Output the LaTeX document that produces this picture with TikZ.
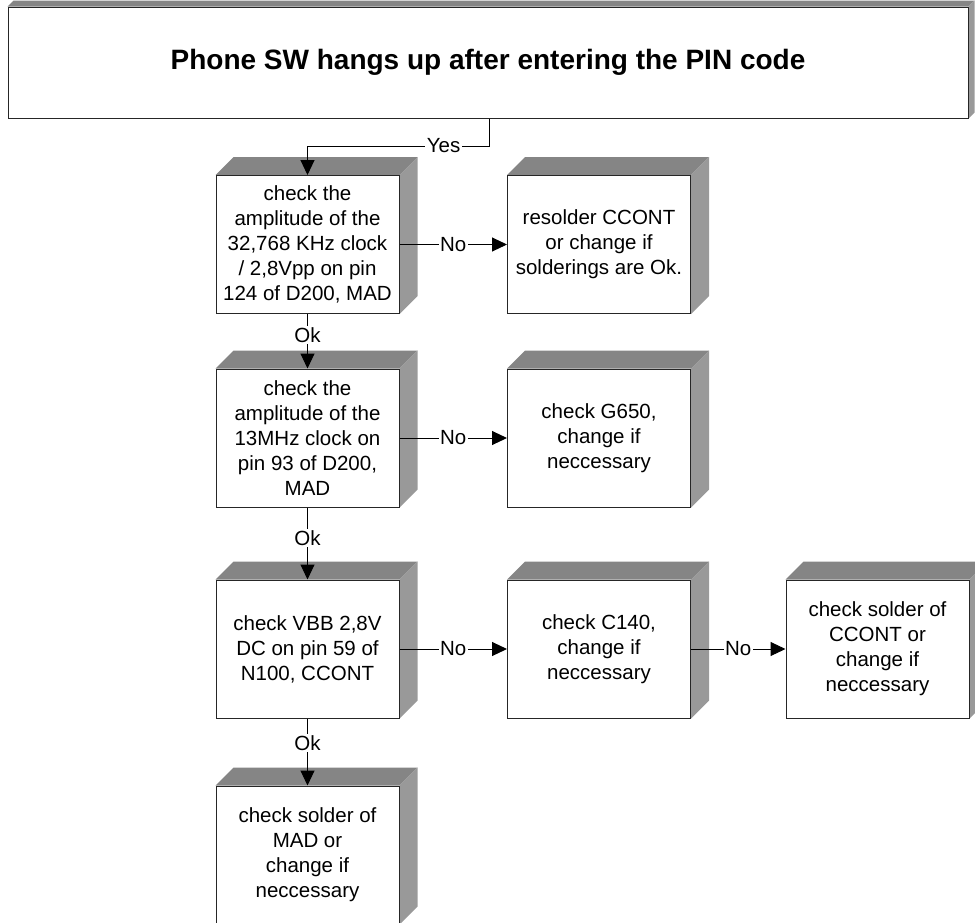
\documentclass[tikz,border=0pt]{standalone}
\usepackage{fontspec}
\setmainfont{Liberation Sans}
\usetikzlibrary{arrows.meta,backgrounds}

% extruded faces (top and right) behind a front box
\newcommand\extrude[2]{%
  \fill[topface] (#1.north west) -- ++(#2,-#2) -- ([shift={(#2,-#2)}]#1.north east) -- (#1.north east) -- cycle;
  \fill[sideface] (#1.north east) -- ++(#2,-#2) -- ([shift={(#2,-#2)}]#1.south east) -- (#1.south east) -- cycle;
}

\begin{document}
\begin{tikzpicture}[x=1pt,y=-1pt,
  boxtext/.style={font=\fontsize{20.5}{25}\selectfont},
  box/.style={draw=black!85, line width=1pt, fill=white, minimum width=183pt,
    minimum height=138pt, inner sep=0pt, align=center, boxtext},
  lbl/.style={fill=white, inner sep=1.5pt, boxtext},
  conn/.style={line width=1pt, black},
  arr/.style={conn, -{Triangle[length=15pt,width=14pt]}},
  topface/.style={fill=black!48},
  sideface/.style={fill=black!40},
]
\useasboundingbox (0,0) rectangle (975,922);
\clip (0,0) rectangle (975,922);

% heading box
\node[box, minimum width=960pt, minimum height=111pt,
      font=\bfseries\fontsize{28}{32}\selectfont] (title) at (488,62.5)
  {Phone SW hangs up after entering the PIN code};

% step boxes
\node[box] (b1) at (307.5,244.5) {check the\\amplitude of the\\32,768 KHz clock\\/ 2,8Vpp on pin\\124 of D200, MAD};
\node[box] (b2) at (599,244.5) {resolder CCONT\\or change if\\solderings are Ok.};
\node[box] (b3) at (307.5,438) {check the\\amplitude of the\\13MHz clock on\\pin 93 of D200,\\MAD};
\node[box] (b4) at (599,438) {check G650,\\change if\\neccessary};
\node[box] (b5) at (307.5,649) {check VBB 2,8V\\DC on pin 59 of\\N100, CCONT};
\node[box] (b6) at (599,649) {check C140,\\change if\\neccessary};
\node[box] (b7) at (877.5,649) {check solder of\\CCONT or\\change if\\neccessary};
\node[box] (b8) at (307.5,855) {check solder of\\MAD or\\change if\\neccessary};

\begin{scope}[on background layer]
  \extrude{title}{6}
  \foreach \n in {b1,b2,b3,b4,b5,b6,b7,b8} {\extrude{\n}{18}}
\end{scope}

% connectors
\coordinate (yesturn) at (489,146);
\draw[arr] (yesturn |- title.south) -- (yesturn) -- node[lbl,pos=0.25]{Yes} (yesturn -| b1) -- (b1.north);
\draw[arr] (b1) -- node[lbl]{No} (b2);
\draw[arr] (b1) -- node[lbl,pos=0.38]{Ok} (b3);
\draw[arr] (b3) -- node[lbl]{No} (b4);
\draw[arr] (b3) -- node[lbl,pos=0.42]{Ok} (b5);
\draw[arr] (b5) -- node[lbl]{No} (b6);
\draw[arr] (b6) -- node[lbl]{No} (b7);
\draw[arr] (b5) -- node[lbl,pos=0.37]{Ok} (b8);
\end{tikzpicture}
\end{document}
